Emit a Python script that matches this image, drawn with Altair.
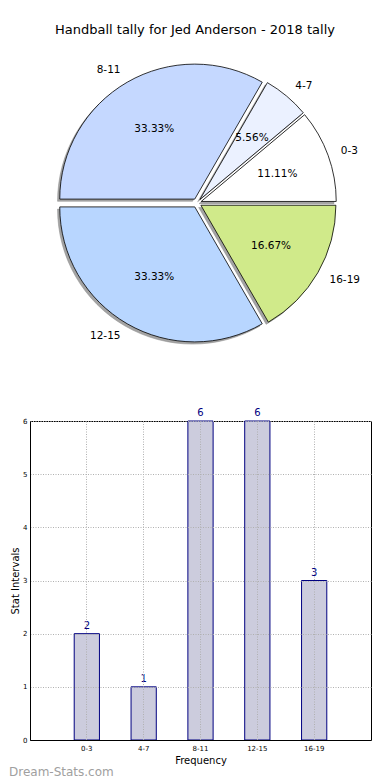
import altair as alt
import pandas as pd

# ---- data ----
categories = ["0-3", "4-7", "8-11", "12-15", "16-19"]
counts = [2, 1, 6, 6, 3]
pie_colors = ["#ffffff", "#ebf1ff", "#c5d8ff", "#b8d6ff", "#d0ea8a"]
title_text = "Handball tally for Jed Anderson - 2018 tally"
y_title = "Stat Intervals"
x_title = "Frequency"
y_ticks = [0, 1, 2, 3, 4, 5, 6]
watermark = ["Dream-Stats.com"]

df = pd.DataFrame({"cat": categories, "count": counts, "idx": list(range(len(categories)))})

# ---- layout / style constants ----
E = 21            # y-axis extent of bar chart
PIE_W = 372 - 2 * E
PIE_H = 354
CX = 188 - E      # pie centre inside pie view
CY = 158
R = 135
D = 4.5           # explode distance
SH = 2.2          # shadow offset
BAR_W = 362 - E
BAR_H = 319
FONT = "DejaVu Sans"

base = (
    alt.Chart(df)
    .transform_joinaggregate(total="sum(count)")
    .transform_window(cum="sum(count)", sort=[alt.SortField("idx")], frame=[None, 0])
    .transform_calculate(
        a0="2*PI*(datum.cum - datum.count)/datum.total",
        a1="2*PI*datum.cum/datum.total",
    )
    .transform_calculate(
        am="(datum.a0 + datum.a1)/2",
        t0="5*PI/2 - datum.a1",
        t1="5*PI/2 - datum.a0",
        pct="format(100*datum.count/datum.total, '.2f') + '%'",
    )
    .transform_calculate(
        tm="5*PI/2 - datum.am",
        cx=f"{CX} + {D}*cos(datum.am)",
        cy=f"{CY} - {D}*sin(datum.am)",
    )
    .transform_calculate(
        sx=f"datum.cx - {SH}",
        sy=f"datum.cy + {SH}",
    )
)

shadow = base.mark_arc(radius=R, fill="#a3a3a3", stroke="#8a8a8a", strokeWidth=0.5).encode(
    theta=alt.Theta("t0:Q", scale=None, stack=None),
    theta2="t1:Q",
    x=alt.X("sx:Q", scale=None),
    y=alt.Y("sy:Q", scale=None),
)

slices = base.mark_arc(radius=R, stroke="black", strokeWidth=0.8).encode(
    theta=alt.Theta("t0:Q", scale=None, stack=None),
    theta2="t1:Q",
    x=alt.X("cx:Q", scale=None),
    y=alt.Y("cy:Q", scale=None),
    fill=alt.Fill("cat:N", scale=alt.Scale(domain=categories, range=pie_colors), legend=None),
)

pct_text = base.mark_text(radius=R * 0.6, fontSize=10.5, font=FONT, color="black").encode(
    theta=alt.Theta("tm:Q", scale=None, stack=None),
    x=alt.X("cx:Q", scale=None),
    y=alt.Y("cy:Q", scale=None),
    text="pct:N",
)

lab_right = base.transform_filter("cos(datum.am) > 0").mark_text(
    radius=R * 1.1, fontSize=10.5, font=FONT, color="black", align="left", baseline="middle"
).encode(
    theta=alt.Theta("tm:Q", scale=None, stack=None),
    x=alt.X("cx:Q", scale=None),
    y=alt.Y("cy:Q", scale=None),
    text="cat:N",
)

lab_left = base.transform_filter("cos(datum.am) <= 0").mark_text(
    radius=R * 1.1, fontSize=10.5, font=FONT, color="black", align="right", baseline="middle"
).encode(
    theta=alt.Theta("tm:Q", scale=None, stack=None),
    x=alt.X("cx:Q", scale=None),
    y=alt.Y("cy:Q", scale=None),
    text="cat:N",
)

pie = alt.layer(shadow, slices, pct_text, lab_right, lab_left).properties(
    width=PIE_W,
    height=PIE_H,
    view=alt.ViewBackground(stroke="transparent", strokeWidth=0),
    title=alt.TitleParams(title_text, fontSize=13, font=FONT, fontWeight="normal", color="black", offset=8),
)

# ---- bar chart ----
bar_base = alt.Chart(df)

x_enc = alt.X(
    "cat:N",
    sort=categories,
    scale=alt.Scale(paddingInner=0.556, paddingOuter=0.778),
    axis=alt.Axis(
        title=x_title, labelAngle=0, labelFontSize=7, labelFont=FONT, labelColor="black",
        titleFontSize=10, titleFont=FONT, titleFontWeight="normal", titleColor="black",
        ticks=False, tickSize=0, labelPadding=4, titlePadding=4,
        grid=True, gridDash=[1, 1.5], gridColor="#b0b0b0", bandPosition=0.5,
        domainColor="black", zindex=1,
    ),
)
y_enc = alt.Y(
    "count:Q",
    scale=alt.Scale(domain=[0, 6], nice=False),
    axis=alt.Axis(
        title=y_title, values=y_ticks, format="d", labelFontSize=7, labelFont=FONT, labelColor="black",
        titleFontSize=10, titleFont=FONT, titleFontWeight="normal", titleColor="black",
        ticks=False, tickSize=0, labelPadding=3, titlePadding=2,
        grid=True, gridDash=[1, 1.5], gridColor="#b0b0b0",
        domainColor="black", zindex=1,
    ),
)

bars = bar_base.mark_bar(fill="#ccccdd", stroke="#000080", strokeWidth=1).encode(x=x_enc, y=y_enc)
bar_labels = bar_base.mark_text(baseline="bottom", dy=-3, fontSize=10, font=FONT, color="#000080").encode(
    x=alt.X("cat:N", sort=categories),
    y="count:Q",
    text="count:Q",
)
wm = alt.Chart(pd.DataFrame({"t": watermark})).mark_text(
    align="left", baseline="middle", fontSize=12, font=FONT, color="#a0a0a0"
).encode(x=alt.value(-E), y=alt.value(BAR_H + 32), text="t:N")

bar_chart = alt.layer(bars, bar_labels, wm).properties(
    width=BAR_W, height=BAR_H,
    view=alt.ViewBackground(stroke="black", strokeWidth=1),
)

chart = (
    alt.vconcat(pie, bar_chart, spacing=8)
    .properties(padding={"top": 16, "left": 0, "right": 0, "bottom": 0})
    .configure(font=FONT)
)

chart.save("out.html", embed_options={"renderer": "svg", "actions": False})
